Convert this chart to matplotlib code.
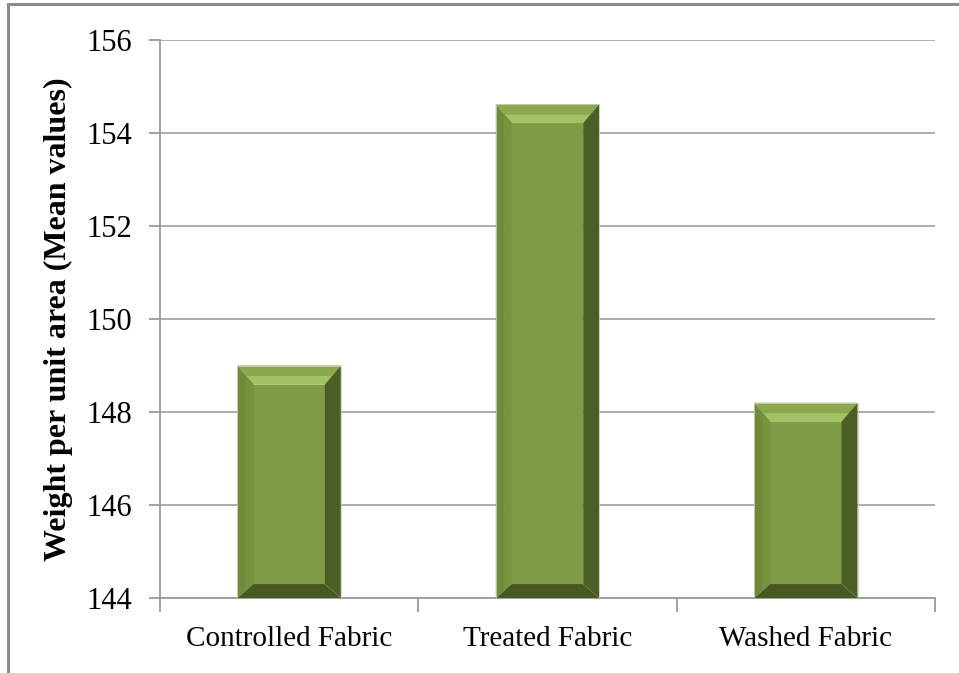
import numpy as np
import matplotlib
matplotlib.use("Agg")
from matplotlib import pyplot as plt
from matplotlib.patches import Polygon, Rectangle

categories = ["Controlled Fabric", "Treated Fabric", "Washed Fabric"]
values = [149.0, 154.62, 148.2]
y_ticks = [144, 146, 148, 150, 152, 154, 156]

plt.rcParams['font.family'] = ['Liberation Serif', 'DejaVu Serif']

fig = plt.figure(figsize=(9.59, 6.73), dpi=100)
ax = fig.add_axes([0.1668, 0.1114, 0.8082, 0.8292])

# outer frame (only top and left visible in the reference)
fig.patches.append(Rectangle((8 / 959, -0.05), 1.2, 1 - 4 / 673 + 0.05,
                             transform=fig.transFigure, fill=False,
                             edgecolor='#8c8c8c', linewidth=2.2))

x = np.arange(len(categories))
width = 0.4
ymin, ymax = y_ticks[0], y_ticks[-1]
ax.set_xlim(-0.5, len(categories) - 0.5)
ax.set_ylim(ymin, ymax)

# bevel sizes, px -> data units
px_x = len(categories) / (0.8082 * 959)
px_y = (ymax - ymin) / (0.8292 * 673)
bx = 16 * px_x
bt = 19 * px_y
bb = 14 * px_y

for xi, v in zip(x, values):
    l, r = xi - width / 2, xi + width / 2
    b, t = ymin, v
    ax.add_patch(Polygon([(l + bx, b + bb), (r - bx, b + bb), (r - bx, t - bt), (l + bx, t - bt)],
                         closed=True, facecolor='#809b46', edgecolor='none', zorder=3))
    # top bevel
    ax.add_patch(Polygon([(l, t), (r, t), (r - bx, t - bt), (l + bx, t - bt)],
                         closed=True, facecolor='#8aa84c', edgecolor='none', zorder=3))
    ax.add_patch(Polygon([(l + bx * 0.55, t - bt * 0.55), (r - bx * 0.55, t - bt * 0.55),
                          (r - bx, t - bt), (l + bx, t - bt)],
                         closed=True, facecolor='#a3c266', edgecolor='none', zorder=3))
    # left bevel
    ax.add_patch(Polygon([(l, t), (l + bx, t - bt), (l + bx, b + bb), (l, b)],
                         closed=True, facecolor='#6f8b3a', edgecolor='none', zorder=3))
    ax.add_patch(Polygon([(l + bx * 0.5, t - bt * 0.5), (l + bx, t - bt),
                          (l + bx, b + bb), (l + bx * 0.5, b + bb * 0.5)],
                         closed=True, facecolor='#77933f', edgecolor='none', zorder=3))
    # right bevel
    ax.add_patch(Polygon([(r, t), (r - bx, t - bt), (r - bx, b + bb), (r, b)],
                         closed=True, facecolor='#4b5f25', edgecolor='none', zorder=3))
    # bottom bevel
    ax.add_patch(Polygon([(l, b), (r, b), (r - bx, b + bb), (l + bx, b + bb)],
                         closed=True, facecolor='#475921', edgecolor='none', zorder=3))
    ax.add_patch(Rectangle((l, b), width, t - b, fill=False,
                           edgecolor='#c8cfc0', linewidth=0.6, zorder=4))

ax.set_yticks(y_ticks)
ax.set_yticklabels([str(t) for t in y_ticks], fontsize=22)
ax.yaxis.grid(True, color='#a6a6a6', linewidth=1.3, zorder=0)
ax.set_axisbelow(True)

ax.set_xticks(x)
ax.set_xticklabels(categories, fontsize=21)
ax.set_xticks(np.arange(len(categories) + 1) - 0.5, minor=True)
ax.tick_params(axis='x', which='major', length=0, pad=20)
ax.tick_params(axis='x', which='minor', length=10, color='#9a9a9a', width=1.3)
ax.tick_params(axis='y', length=8, color='#9a9a9a', width=1.3, pad=12)

for side in ['top', 'right']:
    ax.spines[side].set_visible(False)
for side in ['left', 'bottom']:
    ax.spines[side].set_color('#9a9a9a')
    ax.spines[side].set_linewidth(1.3)

ax.set_ylabel("Weight per unit area (Mean values)", fontsize=23,
              fontweight='bold', labelpad=10)

fig.savefig("out.png", dpi=100)
